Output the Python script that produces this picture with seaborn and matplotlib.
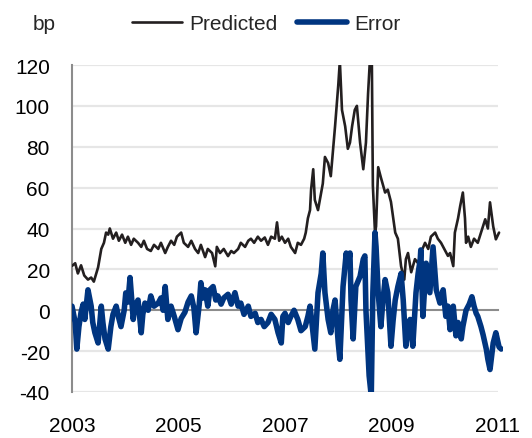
import matplotlib
matplotlib.use("Agg")
import matplotlib.pyplot as plt
import seaborn as sns
import pandas as pd

# ---- data ----
pred_years = [
    2003.00, 2003.06, 2003.11, 2003.17, 2003.23, 2003.30, 2003.36, 2003.41, 2003.49, 2003.55,
    2003.60, 2003.64, 2003.68, 2003.71, 2003.77, 2003.83, 2003.88, 2003.94, 2004.00, 2004.05,
    2004.11, 2004.16, 2004.24, 2004.30, 2004.35, 2004.41, 2004.48, 2004.54, 2004.62, 2004.67,
    2004.75, 2004.80, 2004.86, 2004.92, 2004.97, 2005.05, 2005.10, 2005.18, 2005.24, 2005.31,
    2005.37, 2005.42, 2005.50, 2005.55, 2005.63, 2005.69, 2005.72, 2005.78, 2005.85, 2005.93,
    2005.99, 2006.04, 2006.12, 2006.17, 2006.25, 2006.31, 2006.36, 2006.42, 2006.49, 2006.55,
    2006.62, 2006.68, 2006.74, 2006.81, 2006.85, 2006.89, 2006.94, 2007.00, 2007.06, 2007.11,
    2007.19, 2007.24, 2007.30, 2007.36, 2007.39, 2007.43, 2007.47, 2007.49, 2007.53, 2007.56,
    2007.62, 2007.68, 2007.71, 2007.75, 2007.81, 2007.86, 2007.90, 2007.94, 2008.00, 2008.03,
    2008.07, 2008.13, 2008.18, 2008.22, 2008.26, 2008.31, 2008.35, 2008.41, 2008.47, 2008.52,
    2008.56, 2008.60, 2008.63, 2008.65, 2008.69, 2008.71, 2008.75, 2008.80, 2008.88, 2008.93,
    2008.99, 2009.07, 2009.12, 2009.18, 2009.24, 2009.27, 2009.31, 2009.37, 2009.44, 2009.50,
    2009.55, 2009.63, 2009.69, 2009.74, 2009.82, 2009.87, 2009.93, 2009.99, 2010.06, 2010.10,
    2010.16, 2010.19, 2010.25, 2010.29, 2010.34, 2010.38, 2010.40, 2010.44, 2010.49, 2010.55,
    2010.62, 2010.68, 2010.76, 2010.81, 2010.85, 2010.91, 2010.96, 2011.02,
]
pred_values = [
    21.7, 23, 18, 22, 17, 15, 16, 14, 21, 30,
    33, 38, 37, 40, 35, 38, 34, 37, 33, 36,
    32, 35, 33, 31, 34, 30, 29, 32, 30, 33,
    28, 31, 34, 32, 36, 38, 33, 31, 34, 30,
    28, 32, 26, 30, 28, 21.5, 31, 28, 30, 26.5,
    29, 28, 30, 33, 31, 34, 35, 33, 36, 34,
    35.6, 32, 36, 35, 43, 34, 36, 33, 35, 31,
    28, 33, 32, 35, 38, 45, 49, 59, 69, 54,
    49, 57.6, 62, 75, 72, 65.6, 78, 90, 110, 122,
    98, 90, 79, 82, 90, 98, 100, 82, 69, 82,
    106, 125, 125, 61, 38, 41, 70, 65, 57.6, 59,
    53, 38, 35, 21.5, 15, 25, 28, 18.6, 25, 23,
    28, 33, 30, 36, 38, 35, 33, 30, 26.6, 28,
    21.6, 38, 45, 51, 57.6, 45, 33, 36, 31, 35,
    33, 38, 44.5, 40, 52.8, 41, 34.7, 38,
]

err_years = [
    2003.00, 2003.06, 2003.09, 2003.13, 2003.17, 2003.21, 2003.24, 2003.30, 2003.36, 2003.39,
    2003.43, 2003.49, 2003.55, 2003.58, 2003.62, 2003.68, 2003.73, 2003.77, 2003.83, 2003.88,
    2003.92, 2003.98, 2004.01, 2004.05, 2004.09, 2004.15, 2004.18, 2004.24, 2004.30, 2004.33,
    2004.37, 2004.43, 2004.48, 2004.54, 2004.62, 2004.67, 2004.71, 2004.75, 2004.80, 2004.86,
    2004.92, 2004.99, 2005.05, 2005.12, 2005.18, 2005.24, 2005.29, 2005.33, 2005.39, 2005.42,
    2005.46, 2005.50, 2005.55, 2005.59, 2005.65, 2005.70, 2005.74, 2005.80, 2005.85, 2005.93,
    2005.99, 2006.06, 2006.12, 2006.17, 2006.23, 2006.31, 2006.36, 2006.44, 2006.49, 2006.55,
    2006.61, 2006.68, 2006.74, 2006.81, 2006.87, 2006.93, 2006.96, 2007.00, 2007.06, 2007.11,
    2007.17, 2007.24, 2007.30, 2007.38, 2007.43, 2007.47, 2007.53, 2007.56, 2007.62, 2007.68,
    2007.71, 2007.75, 2007.81, 2007.86, 2007.90, 2007.94, 2008.00, 2008.03, 2008.09, 2008.15,
    2008.18, 2008.22, 2008.24, 2008.28, 2008.33, 2008.41, 2008.47, 2008.50, 2008.52, 2008.58,
    2008.62, 2008.65, 2008.69, 2008.71, 2008.75, 2008.80, 2008.84, 2008.88, 2008.93, 2008.99,
    2009.03, 2009.07, 2009.12, 2009.18, 2009.22, 2009.27, 2009.31, 2009.35, 2009.40, 2009.46,
    2009.50, 2009.54, 2009.55, 2009.59, 2009.65, 2009.69, 2009.72, 2009.78, 2009.84, 2009.91,
    2009.97, 2010.02, 2010.06, 2010.10, 2010.16, 2010.21, 2010.25, 2010.31, 2010.34, 2010.40,
    2010.46, 2010.51, 2010.55, 2010.59, 2010.62, 2010.68, 2010.72, 2010.78, 2010.81, 2010.85,
    2010.91, 2010.96, 2011.02, 2011.06,
]
err_values = [
    2, -6, -19, -8, -1, 3, -4.5, 10, 2, -6,
    -11, -16, 2, -6, -14, -19, -8, -2, 2, -4,
    -8, 0, 8.5, 4, 16, -4.5, 2, 5, -11, -2,
    3.5, 0, 7, 2, 3.5, 6, 0, 11.6, -4.5, 2,
    -3, -9.5, -4, -1, 4, 7, 1, -11, 3, 13.5,
    6, 10, 2, 10, 11.6, 5, 7, 3, 6, 7.8,
    3, 8.6, 2, 3.5, -2, 2, -3, -1.5, -6, -4.5,
    -8, -6, -2, -4.5, -11, -16, -3, -1.5, -6, -3,
    0, -4.5, -10, -8, -3, 2, -12, -19, 8.6, 18,
    28, 8.6, -4.5, -11, 0, 5, -16, -24, 11.6, 28,
    21.5, 28, 5, -14, 11.6, 16.6, 25, 26.6, 0, -32,
    -42, 8.6, 38, 31, 8.6, -8, 5, 15, 8.6, -17.6,
    -5, 5, 11.6, 18, 5, -17.6, -8, -4.5, -17.6, 8.6,
    18, 25, 29.5, -3, 23, 15, 8.6, 31, 10, 3.5,
    10, -3, 2, -9.5, 2, -12.5, -6, -14, -8, 0,
    3, 6.6, 2, -1.5, -3, -8, -12, -19, -24, -29,
    -16, -11, -18, -19,
]

year_ticks = [2003, 2005, 2007, 2009, 2011]
y_ticks = [-40, -20, 0, 20, 40, 60, 80, 100, 120]
series_names = ["Predicted", "Error"]
unit_label = "bp"

pred_df = pd.DataFrame({"year": pred_years, "value": pred_values})
err_df = pd.DataFrame({"year": err_years, "value": err_values})

# ---- style ----
sns.set_theme(style="white")
plt.rcParams["font.family"] = ["Liberation Sans", "DejaVu Sans"]

W, H = 532, 439
fig = plt.figure(figsize=(W / 100, H / 100), dpi=100)
left_px, right_px, top_px, bottom_px = 72, 503, 66, 393
ax = fig.add_axes([left_px / W, 1 - bottom_px / H,
                   (right_px - left_px) / W, (bottom_px - top_px) / H])

GRID = "#e6e6e6"
AXIS = "#8c8c8c"
PRED_C = "#231f20"
ERR_C = "#003580"

# grid lines (light) from first to last year tick
ax.hlines([t for t in y_ticks if t != 0], year_ticks[0], year_ticks[-1],
          colors=GRID, linewidth=1.6, zorder=1)

sns.lineplot(data=pred_df, x="year", y="value", ax=ax, color=PRED_C,
             linewidth=1.9, estimator=None, sort=False, label=series_names[0],
             zorder=3)
sns.lineplot(data=err_df, x="year", y="value", ax=ax, color=ERR_C,
             linewidth=4.0, estimator=None, sort=False, label=series_names[1],
             zorder=4)

ax.set_xlim(year_ticks[0], year_ticks[0] + (right_px - left_px) / 53.25)
ax.set_ylim(y_ticks[0], y_ticks[-1])
ax.set_xlabel("")
ax.set_ylabel("")

# spines
for s in ["top", "right"]:
    ax.spines[s].set_visible(False)
ax.spines["left"].set_color(AXIS)
ax.spines["left"].set_linewidth(1.5)
ax.spines["bottom"].set_position(("data", 0))
ax.spines["bottom"].set_bounds(year_ticks[0], year_ticks[-1])
ax.spines["bottom"].set_color(AXIS)
ax.spines["bottom"].set_linewidth(1.5)
ax.spines["bottom"].set_zorder(2)

# y ticks
ax.set_yticks(y_ticks)
ax.set_yticklabels([str(t) for t in y_ticks])
ax.tick_params(axis="y", length=0, pad=16, labelsize=15, labelcolor="black")

# x ticks on the zero line (pointing up), labels hidden
ax.set_xticks(year_ticks)
ax.tick_params(axis="x", direction="in", length=3.6, width=1.5, color=AXIS,
               labelbottom=False)

# year labels at the bottom of the axes
sec = ax.secondary_xaxis("bottom")
sec.set_xticks(year_ticks)
sec.set_xticklabels([str(y) for y in year_ticks])
sec.spines["bottom"].set_visible(False)
sec.tick_params(axis="x", length=0, pad=17, labelsize=15, labelcolor="black")

# legend
ax.legend(loc="center left", bbox_to_anchor=(132 / W, 1 - 25 / H),
          bbox_transform=fig.transFigure, ncol=2, frameon=False,
          handlelength=2.4, handletextpad=0.35, columnspacing=0.95,
          borderpad=0, borderaxespad=0, fontsize=15)

fig.text(33 / W, 1 - 25 / H, unit_label, ha="left", va="center", fontsize=15)

fig.savefig("out.png", dpi=100)
